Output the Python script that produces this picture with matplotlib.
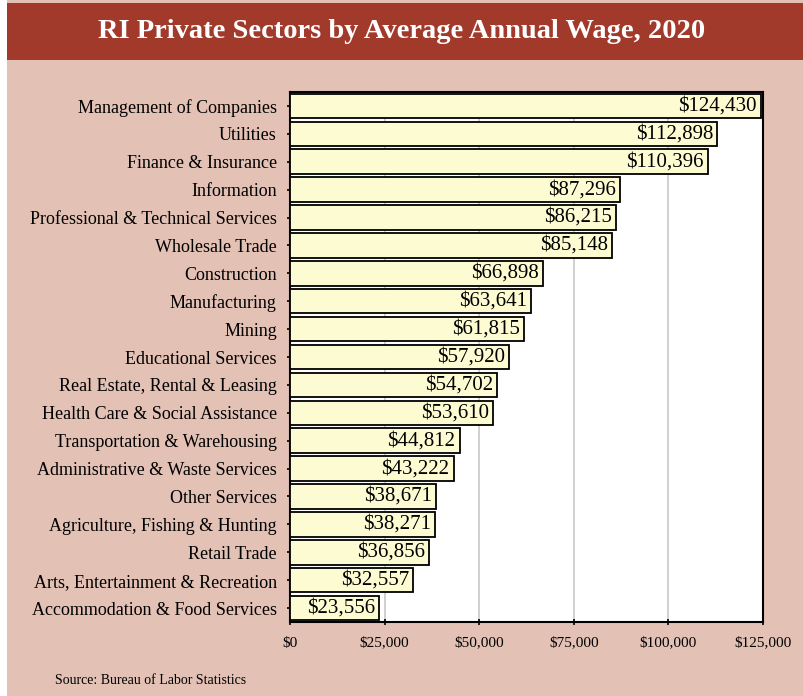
import matplotlib.pyplot as plt
from matplotlib.patches import Rectangle
from matplotlib.ticker import FuncFormatter

sectors = ["Management of Companies", "Utilities", "Finance & Insurance", "Information",
           "Professional & Technical Services", "Wholesale Trade", "Construction",
           "Manufacturing", "Mining", "Educational Services", "Real Estate, Rental & Leasing",
           "Health Care & Social Assistance", "Transportation & Warehousing",
           "Administrative & Waste Services", "Other Services", "Agriculture, Fishing & Hunting",
           "Retail Trade", "Arts, Entertainment & Recreation", "Accommodation & Food Services"]
wages = [124430, 112898, 110396, 87296, 86215, 85148, 66898, 63641, 61815, 57920,
         54702, 53610, 44812, 43222, 38671, 38271, 36856, 32557, 23556]
xticks = [0, 25000, 50000, 75000, 100000, 125000]

plt.rcParams['font.family'] = ['Liberation Serif', 'DejaVu Serif']

fig = plt.figure(figsize=(8.04, 6.96), dpi=100, facecolor='white')
# pink background and dark red title band
fig.patches.append(Rectangle((7/804, 0), 1, 1, transform=fig.transFigure,
                             facecolor='#e3c1b5', edgecolor='none', zorder=-2))
fig.patches.append(Rectangle((7/804, 1-60/696), 1, 57/696, transform=fig.transFigure,
                             facecolor='#a23a2b', edgecolor='none', zorder=-1))
fig.text(0.5, 1-31/696, "RI Private Sectors by Average Annual Wage, 2020", color='white',
         fontsize=20.5, fontweight='bold', ha='center', va='center')

ax = fig.add_axes([290/804, 1-622/696, 473/804, 530/696])
ax.set_facecolor('white')
y = list(range(len(sectors)))
ax.barh(y, wages, height=0.88, color='#fdfbd2', edgecolor='black', linewidth=1.3, zorder=3)
for yi, w in zip(y, wages):
    ax.text(w - 1100, yi, "${:,}".format(w), ha='right', va='center', fontsize=15, zorder=4)

ax.set_xlim(0, 125000)
ax.set_ylim(len(sectors) - 0.5, -0.5)
ax.set_yticks(y)
ax.set_yticklabels(sectors, fontsize=13)
ax.set_xticks(xticks)
ax.xaxis.set_major_formatter(FuncFormatter(lambda v, p: "${:,.0f}".format(v)))
ax.tick_params(axis='x', labelsize=11, length=5, width=1.2, direction='inout', pad=8)
ax.tick_params(axis='y', length=5, width=1.2, direction='inout', pad=7)
ax.grid(axis='x', color='#c8c8c8', linewidth=1.2, zorder=0)
for s in ax.spines.values():
    s.set_linewidth(1.5)

fig.text(55/804, 1-681/696, "Source: Bureau of Labor Statistics", fontsize=10, va='center')

fig.savefig("out.png", dpi=100, facecolor=fig.get_facecolor())
